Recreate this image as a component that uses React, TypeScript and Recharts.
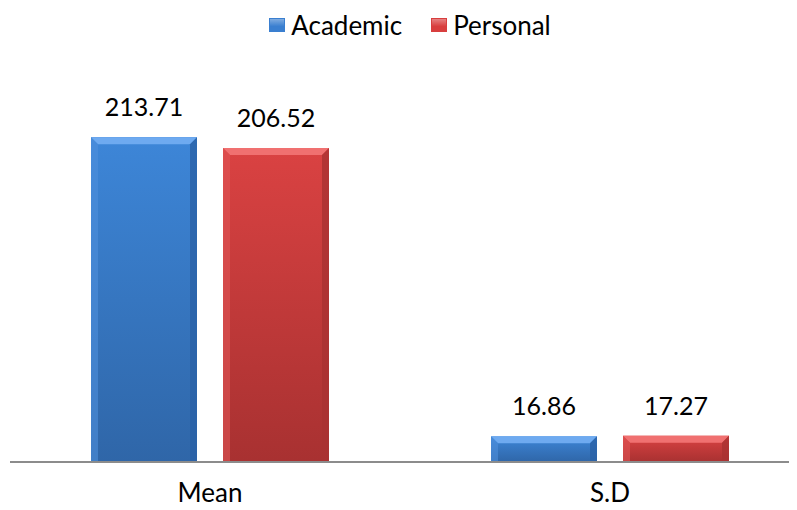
import React from 'react'
import { BarChart, Bar, XAxis, YAxis, Legend, LabelList } from 'recharts'

const categories = ['Mean', 'S.D']
const academic = [213.71, 16.86]
const personal = [206.52, 17.27]

const data = categories.map((name, i) => ({ name, academic: academic[i], personal: personal[i] }))

const FONT = 'Lato, "Open Sans", sans-serif'

const PALETTE = {
  academic: { top: '#6eaaf0', main: '#3a7fd0', dark: '#2b62a6', edge: '#4f8fdc' },
  personal: { top: '#f07070', main: '#d83e3e', dark: '#a93232', edge: '#e05555' },
}

function bevelShape(key: 'academic' | 'personal') {
  const c = PALETTE[key]
  return (props: any) => {
    const { x, y, width, height } = props
    if (height <= 0) return null
    const b = Math.min(7, height / 3)
    return (
      <g>
        <rect x={x} y={y} width={width} height={height} fill={`url(#grad-${key})`} />
        <polygon
          points={`${x},${y} ${x + width},${y} ${x + width - b},${y + b} ${x + b},${y + b}`}
          fill={c.top}
        />
        <polygon
          points={`${x},${y} ${x + b},${y + b} ${x + b},${y + height} ${x},${y + height}`}
          fill={c.edge}
          opacity={0.6}
        />
        <polygon
          points={`${x + width},${y} ${x + width - b},${y + b} ${x + width - b},${y + height} ${x + width},${y + height}`}
          fill={c.dark}
          opacity={0.8}
        />
      </g>
    )
  }
}

function LegendBox({ color }: { color: string }) {
  return (
    <span
      style={{
        display: 'inline-block',
        width: 16,
        height: 14,
        background: `linear-gradient(180deg, ${color}99 0%, ${color} 60%)`,
        boxShadow: `inset 0 0 0 1px ${color}`,
        marginRight: 6,
      }}
    />
  )
}

function renderLegend() {
  const items = [
    { label: 'Academic', color: PALETTE.academic.main },
    { label: 'Personal', color: PALETTE.personal.main },
  ]
  return (
    <div
      style={{
        display: 'flex',
        justifyContent: 'center',
        alignItems: 'center',
        gap: 29,
        height: 30,
        fontFamily: FONT,
        fontSize: 26,
      }}
    >
      {items.map((it) => (
        <span key={it.label} style={{ display: 'inline-flex', alignItems: 'center' }}>
          <LegendBox color={it.color} />
          {it.label}
        </span>
      ))}
    </div>
  )
}

export default function App() {
  return (
    <div style={{ width: 789, height: 502, overflow: 'hidden' }}>
      <BarChart
        width={802}
        height={502}
        data={data}
        margin={{ top: 44, right: 0, left: 2, bottom: 0 }}
        barCategoryGap={81}
        barGap={26}
      >
        <defs>
          <linearGradient id="grad-academic" x1="0" y1="0" x2="0" y2="1">
            <stop offset="0%" stopColor="#3d86d8" />
            <stop offset="100%" stopColor="#2f66a8" />
          </linearGradient>
          <linearGradient id="grad-personal" x1="0" y1="0" x2="0" y2="1">
            <stop offset="0%" stopColor="#da4242" />
            <stop offset="100%" stopColor="#a83131" />
          </linearGradient>
        </defs>
        <Legend verticalAlign="top" content={renderLegend} wrapperStyle={{ top: 2 }} />
        <XAxis
          dataKey="name"
          height={48}
          tickLine={false}
          axisLine={{ stroke: '#8c8c8c', strokeWidth: 2 }}
          tickMargin={16}
          tick={{ fill: '#000', fontSize: 26, fontFamily: FONT }}
        />
        <YAxis hide domain={[0, 250]} />
        <Bar dataKey="academic" name="Academic" shape={bevelShape('academic')} isAnimationActive={false}>
          <LabelList dataKey="academic" position="top" offset={21} fill="#000" fontSize={25} fontFamily={FONT} />
        </Bar>
        <Bar dataKey="personal" name="Personal" shape={bevelShape('personal')} isAnimationActive={false}>
          <LabelList dataKey="personal" position="top" offset={21} fill="#000" fontSize={25} fontFamily={FONT} />
        </Bar>
      </BarChart>
    </div>
  )
}
